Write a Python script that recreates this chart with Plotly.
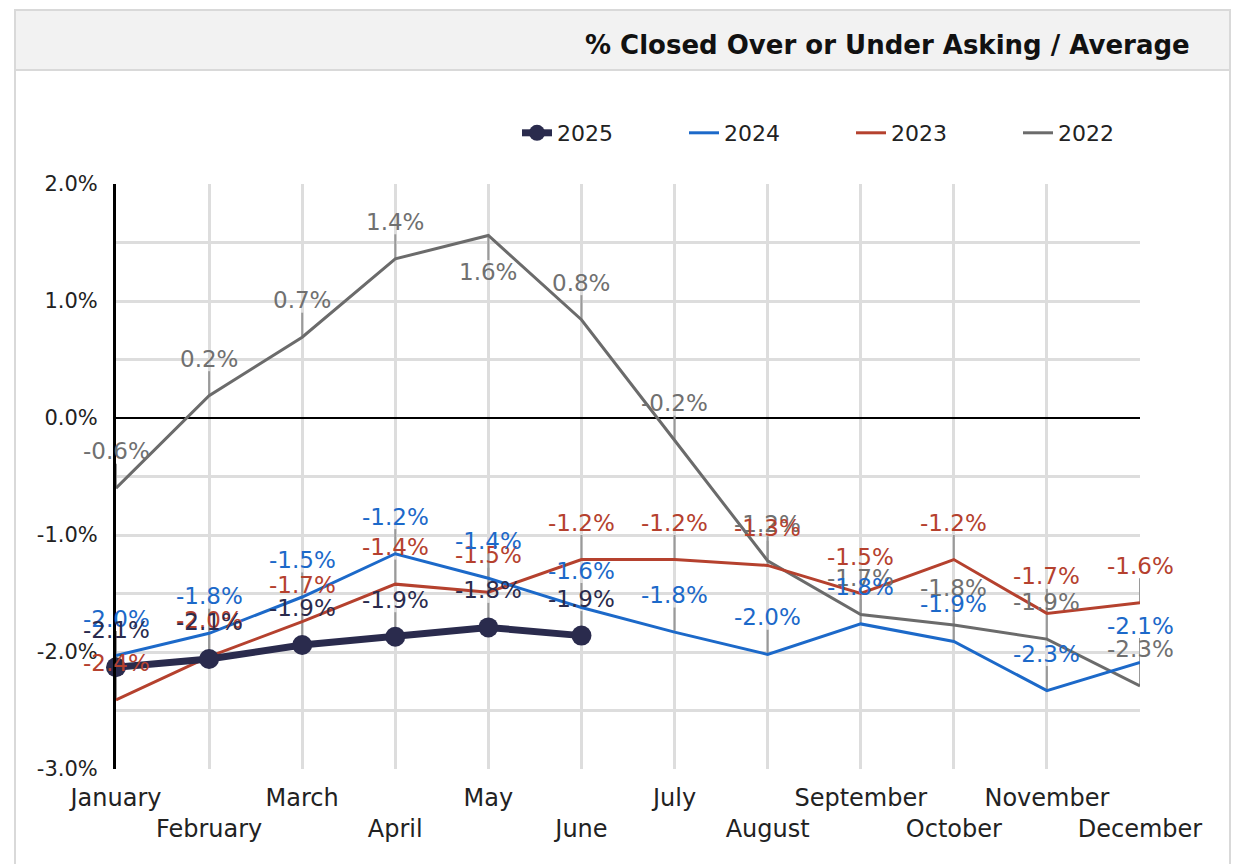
import plotly.graph_objects as go

# ---------------- data ----------------
MONTHS = ["January", "February", "March", "April", "May", "June", "July",
          "August", "September", "October", "November", "December"]
TICK_TEXT = ["January", "<br>February", "March", "<br>April", "May", "<br>June",
             "July", "<br>August", "September", "<br>October", "November", "<br>December"]
Y2025 = [-2.13, -2.06, -1.94, -1.87, -1.79, -1.86]
Y2024 = [-2.03, -1.84, -1.53, -1.16, -1.37, -1.62, -1.83, -2.02, -1.76, -1.91, -2.33, -2.09]
Y2023 = [-2.41, -2.04, -1.74, -1.42, -1.49, -1.21, -1.21, -1.26, -1.50, -1.21, -1.67, -1.58]
Y2022 = [-0.60, 0.19, 0.69, 1.36, 1.56, 0.84, -0.19, -1.22, -1.68, -1.77, -1.89, -2.29]
# label placement: 1 = above point, -1 = below point
POS2022 = [1, 1, 1, 1, -1, 1, 1, 1, 1, 1, 1, 1]
Y_TICKS = [-3.0, -2.5, -2.0, -1.5, -1.0, -0.5, 0.0, 0.5, 1.0, 1.5, 2.0]
TITLE = "% Closed Over or Under Asking / Average"

# ---------------- style ----------------
FONT = "DejaVu Sans"
NAVY = "#2a2b4d"
BLUE = "#1c69c9"
RED = "#b5412e"
GRAY = "#6b6b6b"
LEADER_COLOR = "#9a9a9a"
GRID = "#dddddd"
LEADER = 0.21     # leader line length (data units)
LABEL_SHIFT = 37  # label offset (px)

OFF = 8  # page body margin
W, H = 1232, 856
L, R, T, B = 108, 100, 176, 95
PW, PH = W - L - R, H - T - B


def px(x):
    return (x - OFF - L) / PW


def py(y):
    return (H - B - (y - OFF)) / PH


series = [
    ("2022", Y2022, GRAY, 3, POS2022, "#707070"),
    ("2023", Y2023, RED, 3, [1] * len(Y2023), RED),
    ("2024", Y2024, BLUE, 3, [1] * len(Y2024), BLUE),
    ("2025", Y2025, NAVY, 7, [1] * len(Y2025), NAVY),
]

fig = go.Figure()

# leader lines (behind data lines)
for name, vals, col, lw, pos, lcol in series:
    fig.add_trace(go.Scatter(
        x=MONTHS[:len(vals)], y=vals, mode="markers",
        marker=dict(size=1, color="rgba(0,0,0,0)"),
        error_y=dict(type="data", symmetric=False,
                     array=[LEADER if p > 0 else 0 for p in pos],
                     arrayminus=[LEADER if p < 0 else 0 for p in pos],
                     color=LEADER_COLOR, thickness=2, width=0),
        showlegend=False, hoverinfo="skip", cliponaxis=False,
    ))

rank = {"2025": 1, "2024": 2, "2023": 3, "2022": 4}
for name, vals, col, lw, pos, lcol in series:
    if name == "2025":
        fig.add_trace(go.Scatter(
            x=MONTHS[:len(vals)], y=vals, name=name, mode="lines+markers",
            line=dict(color=col, width=lw),
            marker=dict(size=20, color=col),
            legendrank=rank[name], cliponaxis=False,
        ))
    else:
        fig.add_trace(go.Scatter(
            x=MONTHS[:len(vals)], y=vals, name=name, mode="lines",
            line=dict(color=col, width=lw),
            legendrank=rank[name], cliponaxis=False,
        ))

annotations = []
for name, vals, col, lw, pos, lcol in series:
    for m, v, p in zip(MONTHS, vals, pos):
        annotations.append(dict(
            x=m, y=v, xref="x", yref="y", text=f"{v:.1f}%",
            showarrow=False, yshift=LABEL_SHIFT * p,
            font=dict(family=FONT, size=23, color=lcol),
        ))

annotations.append(dict(
    x=px(1192), y=py(45), xref="paper", yref="paper", text=f"<b>{TITLE}</b>",
    showarrow=False, xanchor="right", yanchor="middle",
    font=dict(family=FONT, size=26, color="#111111"),
))

shapes = [
    dict(type="rect", xref="paper", yref="paper",
         x0=px(15), x1=px(1230), y0=py(900), y1=py(10),
         line=dict(color="#d9d9d9", width=2), fillcolor="rgba(0,0,0,0)", layer="below"),
    dict(type="rect", xref="paper", yref="paper",
         x0=px(15), x1=px(1230), y0=py(70), y1=py(10),
         line=dict(color="#d9d9d9", width=2), fillcolor="#f2f2f2", layer="below"),
]

fig.update_layout(
    width=W, height=H,
    margin=dict(l=L, r=R, t=T, b=B, autoexpand=False),
    paper_bgcolor="white", plot_bgcolor="white",
    font=dict(family=FONT, color="#222222"),
    showlegend=True,
    legend=dict(orientation="h", x=px(517), xanchor="left", y=py(133), yanchor="middle",
                font=dict(family=FONT, size=22, color="#222222"),
                entrywidth=122, bgcolor="rgba(0,0,0,0)"),
    annotations=annotations,
    shapes=shapes,
    xaxis=dict(type="category", categoryarray=MONTHS, range=[0, 11],
               tickvals=MONTHS, ticktext=TICK_TEXT, tickangle=0,
               showgrid=True, gridcolor=GRID, gridwidth=3,
               showline=False, zeroline=False, ticks="", ticklabelstandoff=12,
               tickfont=dict(family=FONT, size=24, color="#222222")),
    yaxis=dict(range=[-3, 2], tickvals=Y_TICKS,
               ticktext=[f"{t:.1f}%" if t == int(t) else "" for t in Y_TICKS],
               showgrid=True, gridcolor=GRID, gridwidth=3,
               showline=True, linecolor="black", linewidth=3,
               zeroline=True, zerolinecolor="black", zerolinewidth=2,
               ticks="", ticklabelstandoff=11,
               tickfont=dict(family=FONT, size=21, color="#222222")),
)

fig.write_html("out.html")
